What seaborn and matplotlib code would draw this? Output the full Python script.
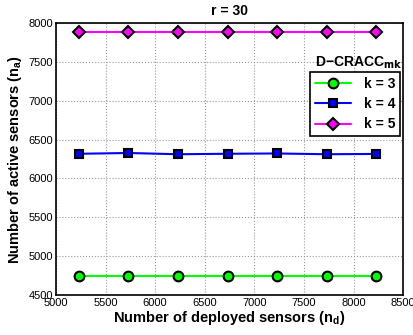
import matplotlib
matplotlib.use("Agg")
import matplotlib.pyplot as plt
import seaborn as sns
import pandas as pd

x_vals = [5230, 5730, 6230, 6730, 7230, 7730, 8230]
k3 = [4745, 4745, 4745, 4745, 4745, 4745, 4745]
k4 = [6318, 6328, 6312, 6318, 6322, 6312, 6316]
k5 = [7890, 7890, 7890, 7890, 7890, 7890, 7890]
labels = ["k = 3", "k = 4", "k = 5"]
colors = ["#00ff00", "#0000ff", "#ff00ff"]
markers = ["o", "s", "D"]
msizes = [7, 6, 6]

sns.set_theme(style="whitegrid")
plt.rcParams['font.family'] = ['Liberation Sans', 'DejaVu Sans']
plt.rcParams['text.color'] = 'black'
plt.rcParams['axes.labelcolor'] = 'black'
plt.rcParams['xtick.color'] = 'black'
plt.rcParams['ytick.color'] = 'black'

df = pd.DataFrame({
    "x": x_vals * 3,
    "y": k3 + k4 + k5,
    "k": [labels[0]] * 7 + [labels[1]] * 7 + [labels[2]] * 7,
})

fig = plt.figure(figsize=(4.13, 3.35), dpi=100)
ax = fig.add_axes([0.1356, 0.1194, 0.8404, 0.8116])
ax.set_facecolor("white")
for lab, c, m, ms in zip(labels, colors, markers, msizes):
    sub = df[df["k"] == lab]
    sns.lineplot(data=sub, x="x", y="y", ax=ax, color=c, marker=m, markersize=ms,
                 markerfacecolor=c, markeredgecolor="black", markeredgewidth=1.5, linewidth=1.5,
                 label=lab)

ax.set_xlim(5000, 8500)
ax.set_ylim(4500, 8000)
ax.set_xticks(range(5000, 8501, 500))
ax.set_yticks(range(4500, 8001, 500))
ax.tick_params(axis="both", labelsize=8, direction="in", length=3, colors="black", pad=2)
ax.grid(True, linestyle=":", color="#999999", linewidth=0.8)
for s in ax.spines.values():
    s.set_color("black")
    s.set_linewidth(1.2)
ax.set_xlabel("Number of deployed sensors (n$_\\mathregular{d}$)", fontsize=10.5, fontweight="bold",
              labelpad=1, color="black")
ax.set_ylabel("Number of active sensors (n$_\\mathregular{a}$)", fontsize=10.5, fontweight="bold",
              labelpad=3, color="black")
ax.set_title("r = 30", fontsize=10, fontweight="bold", pad=6, color="black")

leg = ax.legend(loc="upper right", bbox_to_anchor=(0.991, 0.82), prop={"weight": "bold", "size": 10},
                frameon=True, fancybox=False, edgecolor="black", framealpha=1, handlelength=2.6,
                borderpad=0.35, labelspacing=0.45, handletextpad=0.9, borderaxespad=0)
leg.get_frame().set_linewidth(1.2)
for t in leg.get_texts():
    t.set_color("black")
ax.text(0.998, 0.825, "D\u2212CRACC$_\\mathbf{mk}$", transform=ax.transAxes, ha="right", va="bottom",
        fontsize=10, fontweight="bold", color="black")

fig.savefig("out.png", dpi=100)
